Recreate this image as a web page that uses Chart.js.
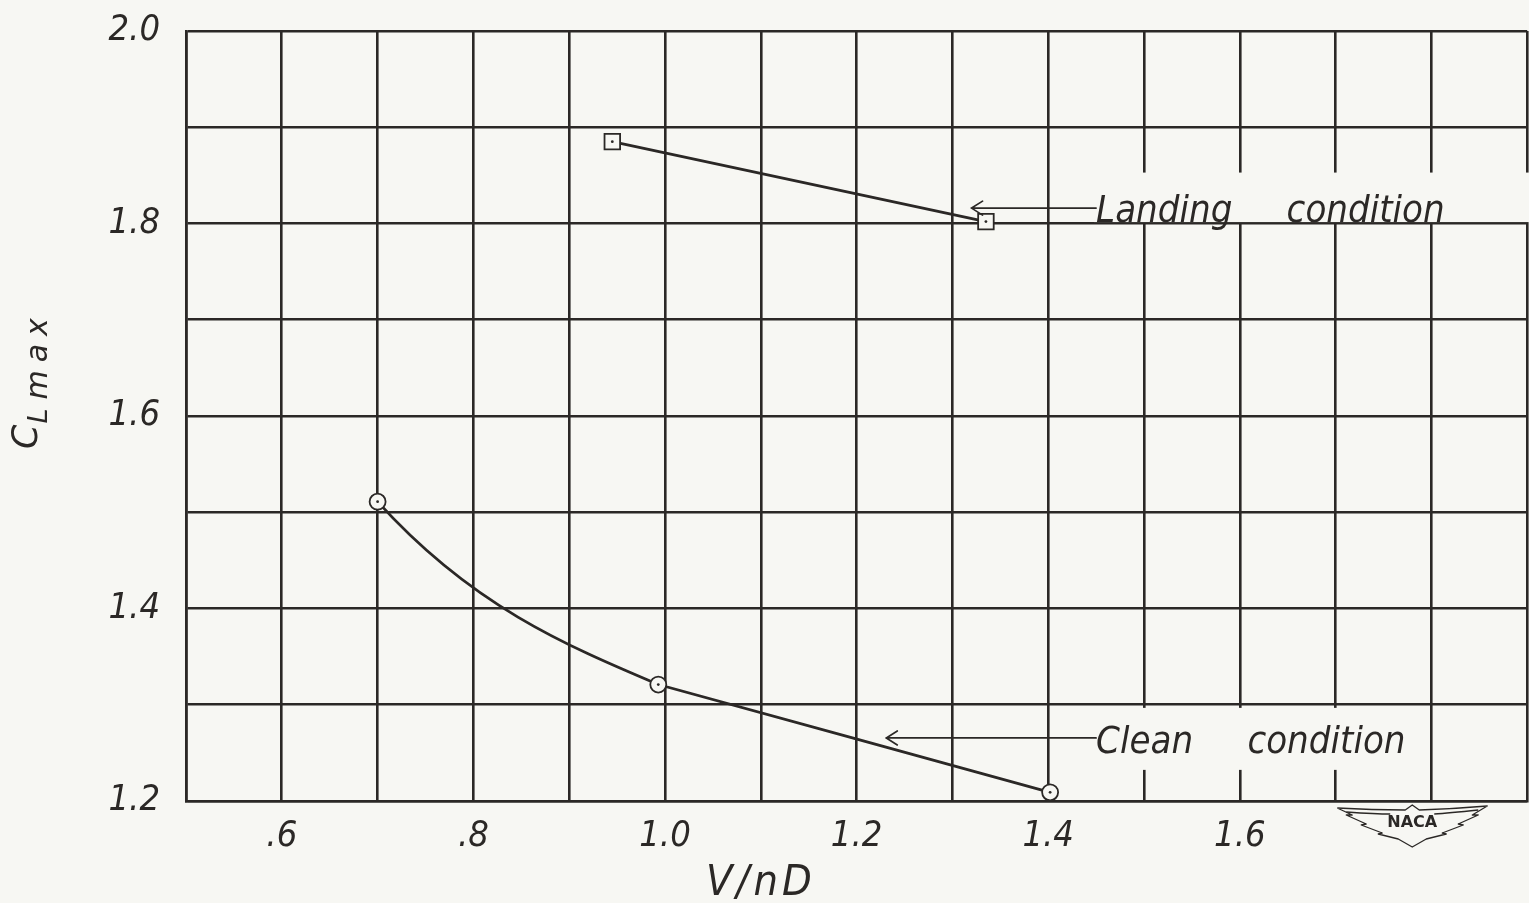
<!DOCTYPE html>
<html>
<head>
<meta charset="utf-8">
<title>CLmax vs V/nD</title>
<script src="https://cdn.jsdelivr.net/npm/chart.js@4.4.1/dist/chart.umd.min.js"></script>
<style>
  html, body { margin: 0; padding: 0; background: #f7f7f3; overflow: hidden; }
  #wrap { width: 1540px; height: 903px; }
</style>
</head>
<body>
<div id="wrap"><canvas id="chart" width="1540" height="903"></canvas></div>
<script>
// Maximum lift coefficient against advance ratio V/nD
const cleanV = [0.70, 0.993, 1.402];
const cleanCL = [1.511, 1.321, 1.209];
const landingV = [0.945, 1.335];
const landingCL = [1.885, 1.802];

const xTickValues = [0.6, 0.8, 1.0, 1.2, 1.4, 1.6];
const xTickLabels = ['.6', '.8', '1.0', '1.2', '1.4', '1.6'];
const yTickValues = [1.2, 1.4, 1.6, 1.8, 2.0];
const yTickLabels = ['1.2', '1.4', '1.6', '1.8', '2.0'];

const seriesNames = ['Clean condition', 'Landing condition'];

const INK = '#2b2826';
const PAPER = '#f7f7f3';
const LETTER = "'Liberation Sans Narrow', 'DejaVu Sans Condensed', 'Liberation Sans', sans-serif";
const ROUND = "'DejaVu Sans', 'Liberation Sans', sans-serif";

function labelFor(values, labels, v) {
  const i = values.findIndex(t => Math.abs(t - v) < 1e-6);
  return i >= 0 ? labels[i] : '';
}

// Faired curve: curved first span, straight second span
const fairing = {
  id: 'fairing',
  beforeDatasetDraw(chart, args, opts) {
    if (args.index !== opts.datasetIndex) return;
    const meta = args.meta;
    const line = meta.dataset;
    line.updateControlPoints(chart.chartArea, meta.iScale.axis);
    const p = meta.data;
    if (p.length < 3) return;
    const a = p[0], b = p[1], c = p[2];
    const dx = b.x - a.x, s = (b.y - a.y) / dx;
    a.cp2x = a.x + dx / 3; a.cp2y = a.y + opts.entry * s * dx / 3;
    b.cp1x = b.x - dx / 3; b.cp1y = b.y - opts.exit * s * dx / 3;
    b.cp2x = b.x + (c.x - b.x) / 3; b.cp2y = b.y + (c.y - b.y) / 3;
    c.cp1x = c.x - (c.x - b.x) / 3; c.cp1y = c.y - (c.y - b.y) / 3;
    line._path = undefined;
  }
};

// Small dot at the centre of every plotted symbol
const centreDots = {
  id: 'centreDots',
  afterDatasetsDraw(chart) {
    const ctx = chart.ctx;
    ctx.save();
    ctx.fillStyle = INK;
    chart.data.datasets.forEach((ds, i) => {
      chart.getDatasetMeta(i).data.forEach(pt => {
        ctx.beginPath();
        ctx.arc(pt.x, pt.y, 1.4, 0, Math.PI * 2);
        ctx.fill();
      });
    });
    ctx.restore();
  }
};

function setFont(ctx, size, family) {
  ctx.font = 'italic ' + size + 'px ' + (family || LETTER);
}

// Leader-line notes naming each curve
const leaderNotes = {
  id: 'leaderNotes',
  beforeDatasetsDraw(chart, args, opts) {
    const { ctx, scales: { x, y } } = chart;
    ctx.save();
    ctx.fillStyle = PAPER;
    opts.notes.forEach(n => {
      setFont(ctx, opts.size);
      const tx = x.getPixelForValue(n.textAt[0]);
      const base = y.getPixelForValue(n.textAt[1]);
      const w = ctx.measureText(n.text).width;
      const x0 = tx - 2;
      const x1 = n.clearToEdge ? chart.width : tx + w + 6;
      ctx.fillRect(x0, base + n.clear[0], x1 - x0, n.clear[1] - n.clear[0]);
    });
    ctx.restore();
  },
  afterDatasetsDraw(chart, args, opts) {
    const { ctx, scales: { x, y } } = chart;
    ctx.save();
    ctx.strokeStyle = INK;
    ctx.fillStyle = INK;
    ctx.lineWidth = 1.7;
    ctx.lineCap = 'round';
    opts.notes.forEach(n => {
      const tipX = x.getPixelForValue(n.tip[0]);
      const tipY = y.getPixelForValue(n.tip[1]);
      const tx = x.getPixelForValue(n.textAt[0]);
      const base = y.getPixelForValue(n.textAt[1]);
      ctx.beginPath();
      ctx.moveTo(tx, tipY);
      ctx.lineTo(tipX, tipY);
      ctx.moveTo(tipX + 11, tipY - 7);
      ctx.lineTo(tipX, tipY);
      ctx.lineTo(tipX + 11, tipY + 7);
      ctx.stroke();
      setFont(ctx, opts.size);
      ctx.textBaseline = 'alphabetic';
      ctx.fillText(n.text, tx, base);
    });
    ctx.restore();
  }
};

// Axis titles: C_L max (rotated, with subscript) and V/nD
const axisTitles = {
  id: 'axisTitles',
  afterDraw(chart) {
    const { ctx, chartArea, scales: { x } } = chart;
    ctx.save();
    ctx.fillStyle = INK;
    ctx.textBaseline = 'alphabetic';
    // vertical title, read bottom to top
    ctx.save();
    ctx.translate(37, 449);
    ctx.rotate(-Math.PI / 2);
    setFont(ctx, 35, ROUND);
    ctx.fillText('C', 0, 0);
    const wc = ctx.measureText('C').width;
    setFont(ctx, 27, ROUND);
    ctx.fillText('L', wc + 1, 10);
    const wl = ctx.measureText('L').width;
    setFont(ctx, 30, ROUND);
    ctx.letterSpacing = '8px';
    ctx.fillText('max', wc + wl + 10, 10);
    ctx.restore();
    // horizontal title
    ctx.save();
    setFont(ctx, 43);
    ctx.letterSpacing = '4px';
    const t = 'V/nD';
    const w = ctx.measureText(t).width;
    ctx.fillText(t, x.getPixelForValue(1.1) - w / 2, chartArea.bottom + 94);
    ctx.restore();
    ctx.restore();
  }
};

// Winged NACA emblem below the axis
const emblem = {
  id: 'emblem',
  afterDraw(chart, args, opts) {
    const { ctx, chartArea, scales: { x } } = chart;
    const cx = x.getPixelForValue(opts.at);
    const top = chartArea.bottom + 5;
    const P = (dx, dy) => [cx + dx, top + dy];
    ctx.save();
    ctx.strokeStyle = INK;
    ctx.lineWidth = 1.3;
    ctx.lineJoin = 'round';
    const right = [[75, 0], [60, 9], [66, 9], [46, 18], [51, 19], [30, 27], [34, 28], [14, 33], [0, 41]];
    ctx.beginPath();
    ctx.moveTo(...P(-75, 2));
    ctx.quadraticCurveTo(...P(-40, 4), ...P(-7, 4));
    ctx.lineTo(...P(0, -1));
    ctx.lineTo(...P(7, 4));
    ctx.quadraticCurveTo(...P(40, 3), ...P(75, 0));
    right.slice(1).forEach(([dx, dy]) => ctx.lineTo(...P(dx, dy)));
    right.slice(0, -1).reverse().forEach(([dx, dy]) => ctx.lineTo(...P(-dx, dy + (dx === 75 ? 2 : 0))));
    ctx.stroke();
    ctx.beginPath();
    ctx.moveTo(...P(-66, 6));
    ctx.quadraticCurveTo(...P(-36, 8), ...P(-22, 8));
    ctx.moveTo(...P(22, 8));
    ctx.quadraticCurveTo(...P(36, 7), ...P(66, 4));
    ctx.stroke();
    ctx.fillStyle = INK;
    ctx.font = 'bold 16px "DejaVu Sans", sans-serif';
    ctx.textAlign = 'center';
    ctx.textBaseline = 'middle';
    ctx.fillText('NACA', cx, top + 17);
    ctx.restore();
  }
};

const tickFont = { family: LETTER, size: 36, style: 'italic' };

// keep the plot frame fixed regardless of label overhang
function pinX(scale) {
  scale.height = 102;
  scale.paddingLeft = 0;
  scale.paddingRight = 0;
}
function pinY(scale) {
  scale.width = 186;
  scale.paddingTop = 0;
  scale.paddingBottom = 0;
}

new Chart(document.getElementById('chart'), {
  type: 'line',
  data: {
    datasets: [
      {
        label: seriesNames[0],
        data: cleanV.map((v, i) => ({ x: v, y: cleanCL[i] })),
        borderColor: INK,
        borderWidth: 2.8,
        tension: 0.4,
        pointStyle: 'circle',
        pointRadius: 8,
        pointBorderWidth: 1.8,
        pointBorderColor: INK,
        pointBackgroundColor: PAPER,
        fill: false
      },
      {
        label: seriesNames[1],
        data: landingV.map((v, i) => ({ x: v, y: landingCL[i] })),
        borderColor: INK,
        borderWidth: 2.8,
        tension: 0,
        pointStyle: 'rect',
        pointRadius: 11,
        pointBorderWidth: 1.8,
        pointBorderColor: INK,
        pointBackgroundColor: PAPER,
        fill: false
      }
    ]
  },
  options: {
    responsive: false,
    animation: false,
    events: [],
    layout: { padding: { top: 31, right: 4, left: 0, bottom: 0 } },
    scales: {
      x: {
        type: 'linear',
        min: 0.5,
        max: 1.9,
        afterFit: pinX,
        grid: { color: INK, lineWidth: 2.6, drawTicks: false },
        border: { display: true, color: INK, width: 2.6 },
        ticks: {
          stepSize: 0.1,
          autoSkip: false,
          maxRotation: 0,
          padding: 14,
          color: INK,
          font: tickFont,
          callback: v => labelFor(xTickValues, xTickLabels, v)
        }
      },
      y: {
        type: 'linear',
        min: 1.2,
        max: 2.0,
        afterFit: pinY,
        grid: { color: INK, lineWidth: 2.6, drawTicks: false },
        border: { display: true, color: INK, width: 2.6 },
        ticks: {
          stepSize: 0.1,
          autoSkip: false,
          padding: 26,
          color: INK,
          font: tickFont,
          callback: v => labelFor(yTickValues, yTickLabels, v)
        }
      }
    },
    plugins: {
      legend: { display: false },
      tooltip: { enabled: false },
      fairing: { datasetIndex: 0, entry: 1.7, exit: 0.65 },
      leaderNotes: {
        size: 38,
        notes: [
          { text: 'Landing     condition', tip: [1.320, 1.816], textAt: [1.450, 1.802], clear: [-49, 0.5], clearToEdge: true },
          { text: 'Clean     condition', tip: [1.231, 1.2655], textAt: [1.450, 1.250], clear: [-45, 17], clearToEdge: false }
        ]
      },
      emblem: { at: 1.78 }
    }
  },
  plugins: [fairing, centreDots, leaderNotes, axisTitles, emblem]
});
</script>
</body>
</html>
